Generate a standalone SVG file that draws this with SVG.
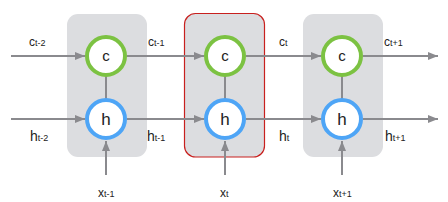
<svg xmlns="http://www.w3.org/2000/svg" width="448" height="202" viewBox="0 0 448 202">
<style>
.box{fill:#dcdde0}
.sel{fill:#dcdde0;stroke:#c8201e;stroke-width:1.2}
.cc{fill:#fff;stroke:#7cc242;stroke-width:4}
.hc{fill:#fff;stroke:#4ea5f6;stroke-width:4}
.ln{stroke:#8a8a8e;stroke-width:2;fill:none}
.t{font-family:"Liberation Sans",Arial,sans-serif;fill:#222}
.ct{font-size:15px;text-anchor:middle}
.ht{font-size:17px;text-anchor:middle}
.lc{font-size:12px}
.lh{font-size:14px}
.sub{font-size:9px}
</style>
<defs>
<marker id="ah" markerWidth="10" markerHeight="8" refX="10" refY="4" orient="auto" markerUnits="userSpaceOnUse">
<path d="M0,0 L10,4 L0,8 Z" fill="#8a8a8e"/>
</marker>
</defs>
<g id="cell1">
<rect class="box" x="67" y="14" width="80" height="143" rx="11"/>
</g>
<g id="cell2">
<rect class="sel" x="184.5" y="13.5" width="80" height="143.5" rx="11"/>
</g>
<g id="cell3">
<rect class="box" x="303" y="14" width="80" height="143" rx="11"/>
</g>
<g id="connectors">
<line class="ln" x1="11" y1="56" x2="85" y2="56" marker-end="url(#ah)"/>
<line class="ln" x1="11" y1="119" x2="85" y2="119" marker-end="url(#ah)"/>
<line class="ln" x1="127" y1="56" x2="204" y2="56" marker-end="url(#ah)"/>
<line class="ln" x1="127" y1="119" x2="204" y2="119" marker-end="url(#ah)"/>
<line class="ln" x1="246" y1="56" x2="321" y2="56" marker-end="url(#ah)"/>
<line class="ln" x1="246" y1="119" x2="321" y2="119" marker-end="url(#ah)"/>
<line class="ln" x1="363" y1="56" x2="438" y2="56" marker-end="url(#ah)"/>
<line class="ln" x1="363" y1="119" x2="438" y2="119" marker-end="url(#ah)"/>
<line class="ln" x1="106" y1="76" x2="106" y2="99"/>
<line class="ln" x1="225" y1="76" x2="225" y2="99"/>
<line class="ln" x1="342" y1="76" x2="342" y2="99"/>
<line class="ln" x1="106" y1="175" x2="106" y2="141" marker-end="url(#ah)"/>
<line class="ln" x1="225" y1="175" x2="225" y2="141" marker-end="url(#ah)"/>
<line class="ln" x1="342" y1="175" x2="342" y2="141" marker-end="url(#ah)"/>
</g>
<g id="c1"><circle class="cc" cx="106" cy="56" r="19"/><text class="t ct" x="106" y="61">c</text></g>
<g id="h1"><circle class="hc" cx="106" cy="119" r="19"/><text class="t ht" x="106" y="125">h</text></g>
<g id="c2"><circle class="cc" cx="225" cy="56" r="19"/><text class="t ct" x="225" y="61">c</text></g>
<g id="h2"><circle class="hc" cx="225" cy="119" r="19"/><text class="t ht" x="225" y="125">h</text></g>
<g id="c3"><circle class="cc" cx="342" cy="56" r="19"/><text class="t ct" x="342" y="61">c</text></g>
<g id="h3"><circle class="hc" cx="342" cy="119" r="19"/><text class="t ht" x="342" y="125">h</text></g>
<g id="labels">
<text class="t lc" x="29" y="46">c<tspan class="sub">t-2</tspan></text>
<text class="t lc" x="148" y="46">c<tspan class="sub">t-1</tspan></text>
<text class="t lc" x="279" y="46">c<tspan class="sub">t</tspan></text>
<text class="t lc" x="384" y="46">c<tspan class="sub">t+1</tspan></text>
<text class="t lh" x="30" y="141">h<tspan class="sub">t-2</tspan></text>
<text class="t lh" x="147" y="141">h<tspan class="sub">t-1</tspan></text>
<text class="t lh" x="279" y="141">h<tspan class="sub">t</tspan></text>
<text class="t lh" x="385" y="141">h<tspan class="sub">t+1</tspan></text>
<text class="t lc" x="98" y="197">x<tspan class="sub">t-1</tspan></text>
<text class="t lc" x="220" y="197">x<tspan class="sub">t</tspan></text>
<text class="t lc" x="333" y="197">x<tspan class="sub">t+1</tspan></text>
</g>
</svg>
